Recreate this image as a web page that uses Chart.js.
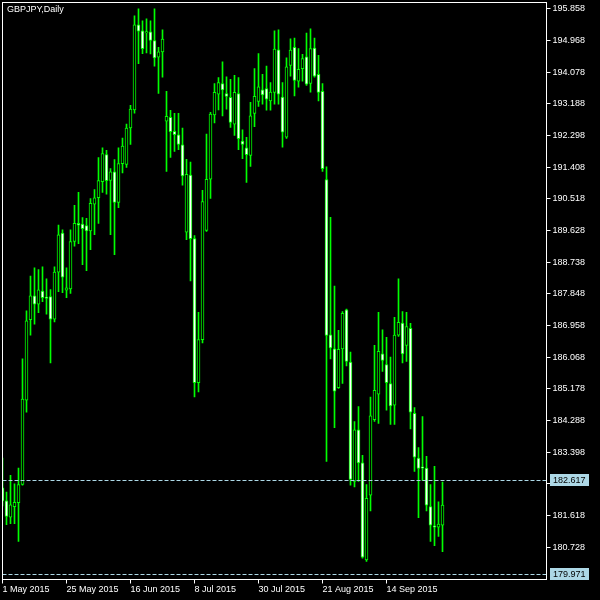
<!DOCTYPE html>
<html>
<head>
<meta charset="utf-8">
<script src="https://cdn.jsdelivr.net/npm/chart.js@4.4.1/dist/chart.umd.min.js"></script>
<style>
  html, body { margin: 0; padding: 0; background: #000; }
  canvas { display: block; }
</style>
</head>
<body>
<canvas id="c" width="600" height="600"></canvas>
<script>
// =================== DATA ===================
const symbolTitle = "GBPJPY,Daily";
const months = ["May", "Jun", "Jul", "Aug", "Sep", "Oct"];
const tradingDays = [
  [1,4,5,6,7,8,11,12,13,14,15,18,19,20,21,22,25,26,27,28,29],
  [1,2,3,4,5,8,9,10,11,12,15,16,17,18,19,22,23,24,25,26,29,30],
  [1,2,3,6,7,8,9,10,13,14,15,16,17,20,21,22,23,24,27,28,29,30,31],
  [3,4,5,6,7,10,11,12,13,14,17,18,19,20,21,24,25,26,27,28,31],
  [1,2,3,4,7,8,9,10,11,14,15,16,17,18,21,22,23,24,25,28,29,30],
  [1,2]
];

const opens = [
  182.40,182.03,181.57,181.87,181.98,182.49,184.86,187.12,187.79,187.56,
  187.93,187.76,187.77,187.14,188.46,189.56,187.95,187.99,189.32,189.83,
  189.81,189.77,189.62,190.37,190.55,191.00,191.76,191.04,191.28,190.42,
  191.51,191.49,192.51,193.02,195.41,195.24,195.18,195.21,194.97,194.50,
  194.65,192.70,192.81,192.42,192.32,192.04,189.58,191.19,189.40,185.35,
  186.56,189.63,191.07,192.88,193.46,193.76,193.48,193.37,192.62,193.48,
  192.14,191.95,191.74,192.92,193.26,193.58,193.62,193.27,193.51,194.71,
  193.38,192.25,194.27,194.78,193.83,194.18,194.51,193.76,194.76,194.02,
  193.54,191.06,186.70,186.30,185.21,186.30,187.40,185.93,182.58,184.03,
  183.10,180.37,182.19,184.31,185.03,186.16,185.86,185.33,184.72,186.69,
  187.03,186.40,186.88,184.49,183.23,182.99,182.95,181.87,181.33,181.29,
  181.35
];
const highs = [
  183.23,182.28,182.75,182.51,182.95,186.02,187.37,188.35,188.58,188.53,
  188.61,188.27,187.97,188.61,189.78,189.65,188.58,189.65,190.34,190.70,
  189.99,189.97,190.53,190.78,191.68,191.95,191.88,191.37,191.62,191.95,
  192.23,192.62,193.15,195.66,195.86,195.52,195.58,195.52,195.86,194.78,
  195.27,193.54,193.01,192.92,192.92,192.51,191.63,191.55,189.49,187.33,
  190.76,192.34,192.95,193.76,193.93,194.37,193.95,193.88,193.99,193.93,
  192.46,192.25,193.23,194.18,194.60,194.02,194.25,193.79,195.24,195.27,
  193.79,194.48,195.02,195.04,194.74,194.58,195.18,195.30,195.04,194.55,
  193.76,191.42,190.00,188.07,186.82,187.35,187.42,186.21,184.26,184.68,
  183.31,182.49,184.95,186.40,187.33,186.84,186.63,186.07,187.19,188.27,
  187.35,187.33,187.02,184.65,183.53,184.40,183.28,182.49,183.00,182.00,
  182.56
];
const lows = [
  181.89,181.36,181.39,181.39,180.89,182.47,184.52,186.69,187.00,187.32,
  187.63,187.28,185.91,187.06,187.91,187.88,187.74,187.86,189.19,189.26,
  188.67,188.50,189.09,189.51,189.83,190.70,190.65,189.51,188.95,190.27,
  191.25,191.40,192.05,192.93,194.32,194.60,194.62,194.59,194.25,193.48,
  193.94,191.29,191.68,191.85,191.90,190.90,189.37,188.21,184.95,185.09,
  186.47,189.60,190.53,192.65,193.02,192.85,193.04,192.53,192.30,191.90,
  191.65,190.98,191.43,192.55,193.12,193.18,193.01,193.01,193.18,193.18,
  191.97,192.22,193.97,193.41,193.66,193.83,193.71,193.52,193.94,193.27,
  191.29,183.14,186.02,184.09,185.19,185.33,185.82,182.47,182.42,182.58,
  180.42,180.33,181.75,184.26,184.21,185.67,184.58,184.18,184.18,186.65,
  185.91,185.95,184.05,182.86,181.56,182.60,181.75,180.89,180.77,181.03,
  180.60
];
const closes = [
  182.03,181.59,181.92,181.99,182.49,184.89,187.09,187.79,187.56,187.96,
  187.74,187.72,187.14,188.46,189.51,188.32,188.02,189.32,189.83,189.78,
  189.68,189.62,190.39,190.55,191.03,191.79,191.03,191.28,190.42,191.51,
  192.00,192.51,193.04,195.41,195.23,194.74,195.22,194.97,194.48,194.65,
  195.01,192.84,192.41,192.32,192.05,191.16,191.21,189.40,185.35,186.56,
  190.44,191.07,192.90,193.51,193.79,193.58,193.40,192.67,193.51,192.21,
  192.05,191.76,192.85,193.40,193.67,193.44,193.32,193.52,194.73,193.46,
  192.39,194.23,194.70,193.85,194.16,194.46,193.74,194.74,193.97,193.51,
  191.37,186.68,186.33,185.11,186.29,187.30,185.95,182.63,184.03,183.10,
  180.45,182.10,184.42,185.14,186.23,185.98,185.35,184.70,186.69,187.05,
  186.16,186.93,184.52,183.26,182.94,182.95,181.91,181.35,181.29,181.38,
  181.91
];

// price scale tick labels and the two marked price lines
const priceTicks = [195.858,194.968,194.078,193.188,192.298,191.408,190.518,189.628,
  188.738,187.848,186.958,186.068,185.178,184.288,183.398,182.508,181.618,180.728];
const priceLines = [182.617, 179.971];
const dateTickEvery = 16;
const shiftBars = 26;   // empty space right of the last bar
const yMin = 179.82, yMax = 195.90;

// =================== BUILD ===================
const dates = tradingDays.flatMap((days, m) => days.map(d => d + " " + months[m] + " 2015"));
const labels = dates.concat(new Array(shiftBars).fill(""));
const bodies = opens.map((o, i) => [o, closes[i]]);
const wicks = lows.map((l, i) => [l, highs[i]]);
const bodyFill = opens.map((o, i) => closes[i] < o ? "#ffffff" : "#000000");

const GREEN = "#00ff00";
const LINE_BLUE = "#add8e6";
const FONT = "'Liberation Sans', Arial, sans-serif";

const isDateTick = i => i < dates.length && i % dateTickEvery === 0;

const terminalLook = {
  id: "terminalLook",
  beforeDraw(chart) {
    const c = chart.ctx;
    c.save();
    c.fillStyle = "#000";
    c.fillRect(0, 0, chart.width, chart.height);
    c.restore();
  },
  afterDraw(chart) {
    const c = chart.ctx, a = chart.chartArea, y = chart.scales.y;
    c.save();
    // dashed price lines with their boxed labels
    priceLines.forEach(v => {
      const py = Math.round(y.getPixelForValue(v)) + 0.5;
      c.strokeStyle = LINE_BLUE;
      c.lineWidth = 1;
      c.setLineDash([4, 2]);
      c.beginPath();
      c.moveTo(2.5, py);
      c.lineTo(a.right, py);
      c.stroke();
      c.setLineDash([]);
      c.fillStyle = LINE_BLUE;
      c.fillRect(550, py - 6.5, 39, 12);
      c.fillStyle = "#000";
      c.font = "9px " + FONT;
      c.textBaseline = "middle";
      c.textAlign = "left";
      c.fillText(v.toFixed(3), 553, py);
    });
    // frame
    c.strokeStyle = "#fff";
    c.lineWidth = 1;
    c.strokeRect(2.5, 2.5, a.right - 2.5, 579.5 - 2.5);
    // title
    c.fillStyle = "#fff";
    c.font = "9px " + FONT;
    c.textBaseline = "middle";
    c.textAlign = "left";
    c.fillText(symbolTitle, 7, 10);
    c.restore();
  }
};

new Chart(document.getElementById("c"), {
  type: "bar",
  data: {
    labels: labels,
    datasets: [
      {
        data: bodies,
        backgroundColor: bodyFill,
        borderColor: GREEN,
        borderWidth: 1,
        borderSkipped: false,
        barThickness: 3,
        grouped: false
      },
      {
        data: wicks,
        backgroundColor: GREEN,
        borderWidth: 0,
        barThickness: 1,
        grouped: false
      }
    ]
  },
  options: {
    responsive: false,
    animation: false,
    devicePixelRatio: 1,
    layout: { padding: { left: 2.5, top: 2.5, right: 0, bottom: 0 } },
    plugins: { legend: { display: false }, tooltip: { enabled: false } },
    scales: {
      x: {
        offset: false,
        border: { display: false },
        grid: {
          offset: false,
          drawOnChartArea: false,
          tickLength: 4,
          color: ctx => isDateTick(ctx.index) ? "#ffffff" : "rgba(0,0,0,0)"
        },
        ticks: {
          autoSkip: false,
          maxRotation: 0,
          minRotation: 0,
          align: "start",
          padding: 1,
          color: "#fff",
          font: { family: FONT, size: 9 },
          callback: function (v, i) { return isDateTick(i) ? this.getLabelForValue(v) : ""; }
        },
        afterFit: s => { s.height = 20.5; }
      },
      y: {
        position: "right",
        min: yMin,
        max: yMax,
        border: { display: false },
        grid: { drawOnChartArea: false, tickLength: 4, color: "#fff" },
        ticks: {
          padding: 2,
          color: "#fff",
          font: { family: FONT, size: 9 },
          callback: v => Number(v).toFixed(3)
        },
        afterBuildTicks: s => { s.ticks = priceTicks.map(v => ({ value: v })); },
        afterFit: s => { s.width = 53.5; }
      }
    }
  },
  plugins: [terminalLook]
});
</script>
</body>
</html>
